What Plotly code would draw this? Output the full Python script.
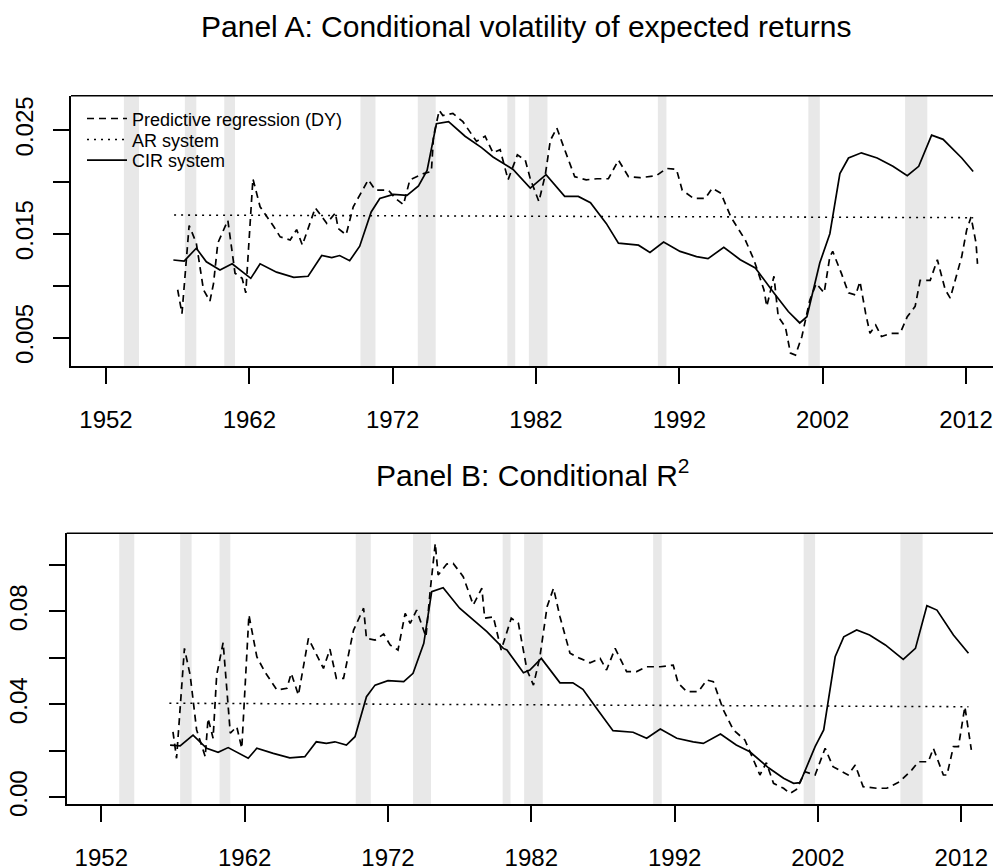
import plotly.graph_objects as go

# ---------------- data ----------------
years_tick = [1952, 1962, 1972, 1982, 1992, 2002, 2012]

rec_start = [1953.25, 1957.5, 1960.25, 1969.75, 1973.75, 1980.0, 1981.5, 1990.5, 2001.0, 2007.75]
rec_end = [1954.3, 1958.3, 1961.0, 1970.8, 1975.0, 1980.55, 1982.8, 1991.1, 2001.8, 2009.3]

# Panel A: conditional volatility of expected returns
a_cir_x = [1956.7, 1957.45, 1958.3, 1959.0, 1959.95, 1960.8, 1962.1, 1962.75, 1963.9, 1965.1,
           1966.1, 1967.05, 1967.75, 1968.3, 1969.0, 1969.7, 1970.5, 1971.1, 1972.05, 1973.0,
           1973.8, 1974.4, 1975.05, 1975.9, 1977.05, 1978.2, 1979.0, 1980.0, 1980.4, 1981.6,
           1982.7, 1984.0, 1984.95, 1985.8, 1986.9, 1987.75, 1989.15, 1989.95, 1990.9, 1992.05,
           1993.2, 1994.0, 1995.1, 1996.25, 1997.3, 1998.6, 1999.6, 2000.4, 2000.9, 2001.8,
           2002.5, 2003.2, 2003.8, 2004.7, 2005.8, 2006.9, 2007.9, 2008.7, 2009.6, 2010.4,
           2011.7, 2012.5]
a_cir_y = [0.01247, 0.01237, 0.0136, 0.0123, 0.0115, 0.0121, 0.0107, 0.0121, 0.0113, 0.0108,
           0.0109, 0.0129, 0.0127, 0.0129, 0.0124, 0.0138, 0.0171, 0.0184, 0.0188, 0.0187,
           0.0196, 0.0211, 0.0256, 0.0258, 0.0244, 0.0233, 0.0224, 0.0215, 0.0212, 0.0194,
           0.0207, 0.0186, 0.0186, 0.0180, 0.0160, 0.0141, 0.0139, 0.0132, 0.0142, 0.0133,
           0.0128, 0.0126, 0.0137, 0.0125, 0.0117, 0.0093, 0.0075, 0.0064, 0.0070, 0.0122,
           0.0150, 0.0208, 0.0223, 0.0228, 0.0223, 0.0215, 0.0206, 0.0215, 0.0245, 0.0241,
           0.0223, 0.0210]

a_dy_x = [1957.0, 1957.3, 1957.8, 1958.3, 1958.8, 1959.25, 1959.5, 1959.8, 1960.5, 1961.0,
          1961.5, 1961.75, 1962.25, 1962.75, 1963.7, 1964.15, 1964.85, 1965.3, 1965.7, 1966.6,
          1967.4, 1968.0, 1968.2, 1968.75, 1969.25, 1970.3, 1970.8, 1971.7, 1972.2, 1972.75,
          1973.2, 1974.15, 1974.7, 1974.85, 1975.25, 1975.5, 1976.2, 1976.9, 1977.85, 1978.45,
          1979.0, 1979.5, 1980.05, 1980.7, 1981.25, 1981.6, 1982.2, 1982.65, 1983.0, 1983.45,
          1984.0, 1984.7, 1985.5, 1986.25, 1987.05, 1987.75, 1988.45, 1989.25, 1990.4, 1991.1,
          1991.8, 1992.2, 1993.0, 1993.8, 1994.3, 1994.9, 1995.6, 1996.6, 1997.2, 1997.9,
          1998.1, 1998.6, 1998.9, 1999.4, 1999.75, 2000.1, 2000.55, 2001.1, 2001.55, 2002.1,
          2002.5, 2002.7, 2003.3, 2003.8, 2004.3, 2004.6, 2005.0, 2005.3, 2005.7, 2006.1,
          2006.8, 2007.4, 2007.9, 2008.45, 2008.8, 2009.5, 2010.0, 2010.55, 2010.9, 2011.4,
          2011.7, 2012.05, 2012.35, 2012.7, 2012.8]
a_dy_y = [0.0096, 0.0073, 0.0158, 0.0141, 0.0096, 0.0085, 0.0102, 0.0141, 0.0163, 0.0112,
          0.0107, 0.0093, 0.0203, 0.0176, 0.0157, 0.0147, 0.0144, 0.0154, 0.0139, 0.0175,
          0.0160, 0.0170, 0.0155, 0.0149, 0.0176, 0.0202, 0.0192, 0.0192, 0.0184, 0.0178,
          0.0202, 0.0208, 0.0210, 0.0244, 0.0269, 0.0264, 0.0266, 0.0258, 0.0239, 0.0244,
          0.0228, 0.0231, 0.0202, 0.0226, 0.0221, 0.0203, 0.0181, 0.0207, 0.0240, 0.0252,
          0.0231, 0.0205, 0.0202, 0.0203, 0.0203, 0.0221, 0.0205, 0.0204, 0.0206, 0.0213,
          0.0212, 0.0192, 0.0184, 0.0184, 0.0194, 0.0189, 0.0166, 0.0144, 0.0125, 0.0096,
          0.0080, 0.0109, 0.0070, 0.0060, 0.0035, 0.0033, 0.0051, 0.0086, 0.0102, 0.0093,
          0.0128, 0.0133, 0.0112, 0.0093, 0.0091, 0.0104, 0.0073, 0.0054, 0.0062, 0.0051,
          0.0054, 0.0054, 0.0070, 0.0080, 0.0105, 0.0105, 0.0125, 0.0096, 0.0088, 0.0112,
          0.0128, 0.0154, 0.0166, 0.0141, 0.0121]

a_ar_x = [1956.75, 1984.6, 2012.5]
a_ar_y = [0.0168, 0.01668, 0.01655]

# Panel B: conditional R^2
b_cir_x = [1956.8, 1957.5, 1958.4, 1959.35, 1960.15, 1960.85, 1962.25, 1962.85, 1964.0, 1965.15,
           1966.2, 1967.0, 1967.7, 1968.3, 1969.1, 1969.7, 1970.5, 1971.1, 1972.0, 1973.1,
           1973.75, 1974.5, 1975.05, 1975.85, 1977.0, 1978.2, 1978.9, 1980.05, 1980.3, 1981.45,
           1981.9, 1982.7, 1984.0, 1984.9, 1985.6, 1986.55, 1987.7, 1989.1, 1990.05, 1991.0,
           1992.15, 1993.3, 1994.0, 1995.2, 1996.3, 1997.25, 1998.55, 1999.6, 2000.3, 2000.75,
           2001.8, 2002.4, 2003.2, 2003.8, 2004.7, 2005.6, 2006.7, 2007.95, 2008.8, 2009.6,
           2010.3, 2011.45, 2012.5]
b_cir_y = [0.0225, 0.0221, 0.0268, 0.0211, 0.0194, 0.0214, 0.0168, 0.0211, 0.0189, 0.0170,
           0.0175, 0.0239, 0.0232, 0.0239, 0.0225, 0.0261, 0.0433, 0.0483, 0.0502, 0.0498,
           0.0534, 0.0663, 0.0885, 0.0902, 0.0814, 0.0752, 0.0713, 0.0641, 0.0634, 0.0536,
           0.0548, 0.0598, 0.0493, 0.0493, 0.0465, 0.0383, 0.0287, 0.0280, 0.0254, 0.0294,
           0.0254, 0.0239, 0.0232, 0.0272, 0.0225, 0.0196, 0.0127, 0.0082, 0.0060, 0.0063,
           0.0218, 0.0290, 0.0605, 0.0691, 0.0720, 0.0699, 0.0656, 0.0594, 0.0641, 0.0825,
           0.0806, 0.0699, 0.0620]

b_dy_x = [1957.0, 1957.25, 1957.8, 1958.2, 1958.65, 1959.25, 1959.45, 1959.8, 1960.05, 1960.5,
          1961.0, 1961.45, 1961.8, 1962.3, 1962.85, 1963.4, 1964.25, 1964.95, 1965.25, 1965.75,
          1966.45, 1967.5, 1967.95, 1968.4, 1968.9, 1969.6, 1970.3, 1970.5, 1971.1, 1971.7,
          1972.15, 1972.7, 1973.2, 1973.55, 1974.0, 1974.65, 1974.95, 1975.3, 1975.5, 1976.1,
          1976.55, 1977.25, 1977.95, 1978.55, 1978.75, 1979.35, 1979.9, 1980.6, 1981.1, 1981.7,
          1982.15, 1982.6, 1983.1, 1983.55, 1984.0, 1984.7, 1985.4, 1986.1, 1986.8, 1987.25,
          1987.85, 1988.65, 1989.35, 1990.05, 1991.0, 1991.9, 1992.25, 1992.85, 1993.65, 1994.25,
          1994.7, 1995.4, 1996.1, 1996.9, 1997.5, 1997.95, 1998.4, 1998.9, 1999.6, 2000.05,
          2000.5, 2001.1, 2001.8, 2002.5, 2003.05, 2004.1, 2004.6, 2005.15, 2006.1, 2006.8,
          2007.7, 2008.55, 2009.0, 2009.7, 2010.05, 2010.75, 2011.0, 2011.45, 2011.8, 2012.25,
          2012.7]
b_dy_y = [0.0282, 0.0168, 0.0641, 0.0526, 0.0290, 0.0175, 0.0340, 0.0254, 0.0526, 0.0666,
          0.0276, 0.0304, 0.0211, 0.0785, 0.0605, 0.0541, 0.0462, 0.0469, 0.0534, 0.0440,
          0.0684, 0.0555, 0.0638, 0.0512, 0.0512, 0.0720, 0.0814, 0.0684, 0.0677, 0.0703,
          0.0656, 0.0634, 0.0792, 0.0749, 0.0806, 0.0691, 0.0892, 0.1093, 0.0957, 0.1004,
          0.1007, 0.0950, 0.0828, 0.0900, 0.0771, 0.0777, 0.0634, 0.0771, 0.0749, 0.0548,
          0.0483, 0.0605, 0.0820, 0.0900, 0.0777, 0.0620, 0.0598, 0.0579, 0.0598, 0.0548,
          0.0641, 0.0541, 0.0541, 0.0562, 0.0562, 0.0569, 0.0491, 0.0455, 0.0455, 0.0505,
          0.0498, 0.0376, 0.0290, 0.0247, 0.0161, 0.0096, 0.0149, 0.0060, 0.0039, 0.0017,
          0.0034, 0.0110, 0.0096, 0.0211, 0.0132, 0.0096, 0.0139, 0.0046, 0.0039, 0.0039,
          0.0067, 0.0118, 0.0153, 0.0153, 0.0211, 0.0096, 0.0096, 0.0218, 0.0218, 0.0390,
          0.0204]

b_ar_x = [1956.75, 1984.6, 2012.5]
b_ar_y = [0.0405, 0.0398, 0.0390]

a_yticks = [0.005, 0.015, 0.025]
a_ylabels = ["0.005", "0.015", "0.025"]
a_ystep = 0.005
b_yticks = [0.00, 0.04, 0.08]
b_ylabels = ["0.00", "0.04", "0.08"]
b_ystep = 0.02

series_names = ["Predictive regression (DY)", "AR system", "CIR system"]

# ---------------- figure ----------------
# The page body keeps its default 8px margin, so the figure is drawn 8px smaller
# and every placement below is given in window pixels, then shifted by that offset.
OFF = 8
W, H = 1001 - OFF, 868 - OFF
FONT = "Liberation Sans, Arial, Helvetica, sans-serif"
LW = 1.7
DASH = "7px,5px"
DOT = "2px,5px"

fig = go.Figure()
legend_ids = ["legend", "legend2", "legend3"]

def add_panel(xs_dy, ys_dy, xs_ar, ys_ar, xs_cir, ys_cir, xa, ya, show):
    specs = [(xs_dy, ys_dy, dict(color="black", width=LW, dash=DASH)),
             (xs_ar, ys_ar, dict(color="black", width=LW * 0.9, dash=DOT)),
             (xs_cir, ys_cir, dict(color="black", width=LW))]
    for i, (xs, ys, ln) in enumerate(specs):
        fig.add_trace(go.Scatter(x=xs, y=ys, mode="lines", name=series_names[i], line=ln,
                                 xaxis=xa, yaxis=ya, showlegend=show, legend=legend_ids[i]))

add_panel(a_dy_x, a_dy_y, a_ar_x, a_ar_y, a_cir_x, a_cir_y, "x", "y", True)
add_panel(b_dy_x, b_dy_y, b_ar_x, b_ar_y, b_cir_x, b_cir_y, "x2", "y2", False)

shapes = []
for xr, yr in (("x", "y"), ("x2", "y2")):
    for s, e in zip(rec_start, rec_end):
        shapes.append(dict(type="rect", xref=xr, yref=yr + " domain", x0=s, x1=e, y0=0, y1=1,
                           fillcolor="#E8E8E8", line=dict(width=0), layer="below"))
    shapes.append(dict(type="line", xref=xr + " domain", yref=yr + " domain", x0=0, x1=1,
                       y0=1, y1=1, line=dict(color="black", width=1.5)))

TICKFONT = dict(family=FONT, size=24, color="black")
axis_common = dict(showgrid=False, zeroline=False, showline=True, linecolor="black",
                   linewidth=1.5, ticks="outside", ticklen=16, tickwidth=1.5,
                   tickcolor="black", tickfont=TICKFONT)

def px_x(p):
    return min(1.0, (p - OFF) / W)

def px_y(p):
    return 1 - (p - OFF) / H

def legend_at(row_px):
    return dict(x=px_x(82), y=px_y(row_px), xanchor="left", yanchor="top",
                bgcolor="rgba(0,0,0,0)", borderwidth=0,
                font=dict(family=FONT, size=18, color="black"), itemwidth=40)

fig.update_layout(
    width=W, height=H,
    margin=dict(l=0, r=0, t=0, b=0, autoexpand=False),
    paper_bgcolor="white", plot_bgcolor="white",
    font=dict(family=FONT, color="black"),
    shapes=shapes,
    xaxis=dict(domain=[px_x(71), 1.0], range=[1949.558, 2014.44], anchor="y",
               tickvals=years_tick, ticklabelstandoff=15, **axis_common),
    yaxis=dict(domain=[px_y(366), px_y(95.7)], range=[0.002253, 0.028306], anchor="x",
               tickvals=a_yticks, ticktext=a_ylabels, tickangle=-90,
               ticklabelstandoff=11,
               minor=dict(tick0=0.005, dtick=a_ystep, ticks="outside", ticklen=16,
                          tickwidth=1.5, tickcolor="black", showgrid=False),
               **axis_common),
    xaxis2=dict(domain=[px_x(66.7), 1.0], range=[1949.586, 2014.77], anchor="y2",
                tickvals=years_tick, ticklabelstandoff=15, **axis_common),
    yaxis2=dict(domain=[px_y(804.3), px_y(533.3)], range=[-0.00301, 0.11365], anchor="x2",
                tickvals=b_yticks, ticktext=b_ylabels, tickangle=-90,
                ticklabelstandoff=12,
                minor=dict(tick0=0.0, dtick=b_ystep, ticks="outside", ticklen=16,
                           tickwidth=1.5, tickcolor="black", showgrid=False),
                **axis_common),
    legend=legend_at(100.3),
    legend2=legend_at(121.3),
    legend3=legend_at(142),
    annotations=[
        dict(text="Panel A: Conditional volatility of expected returns", x=px_x(526),
             y=px_y(26.2), xref="paper", yref="paper", showarrow=False,
             xanchor="center", yanchor="middle", font=dict(family=FONT, size=30)),
        dict(text="Panel B: Conditional R<sup>2</sup>", x=px_x(532.5), y=px_y(473),
             xref="paper", yref="paper", showarrow=False,
             xanchor="center", yanchor="middle", font=dict(family=FONT, size=30)),
    ],
)

fig.write_html("out.html")
